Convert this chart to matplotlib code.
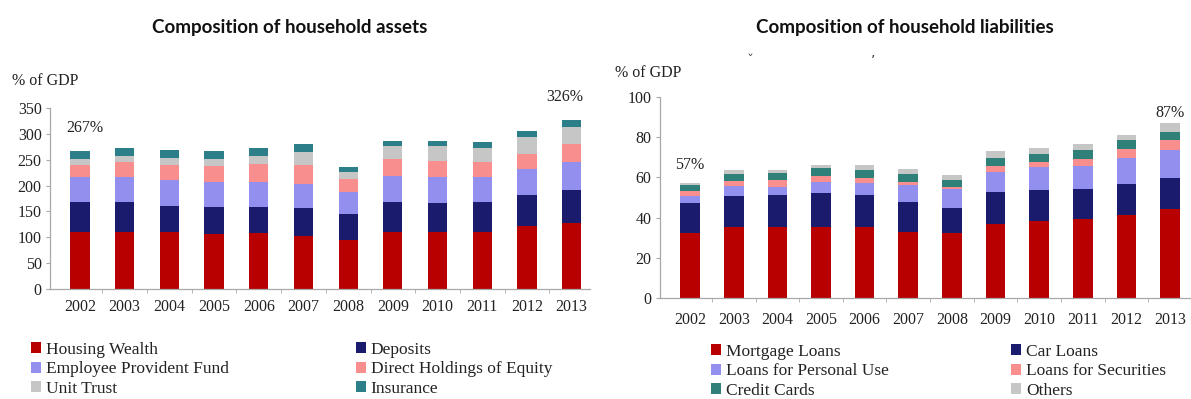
import matplotlib
matplotlib.use("Agg")
import matplotlib.pyplot as plt
from matplotlib.patches import Patch
import numpy as np

years = ["2002", "2003", "2004", "2005", "2006", "2007",
         "2008", "2009", "2010", "2011", "2012", "2013"]

# Household assets, % of GDP
asset_names = ["Housing Wealth", "Deposits", "Employee Provident Fund",
               "Direct Holdings of Equity", "Unit Trust", "Insurance"]
housing_wealth = [110, 110, 110, 106, 108, 103, 94, 110, 110, 110, 121, 128]
deposits = [58, 58, 51, 52, 51, 54, 51, 58, 56, 58, 60, 64]
provident_fund = [48, 49, 49, 48, 47, 46, 42, 51, 51, 49, 52, 54]
equity = [24, 28, 29, 31, 36, 36, 26, 33, 30, 28, 29, 35]
unit_trust = [12, 13, 15, 15, 16, 26, 13, 24, 29, 28, 31, 32]
insurance = [15, 14, 14, 15, 15, 16, 10, 10, 10, 11, 12, 13]

# Household liabilities, % of GDP
liab_names = ["Mortgage Loans", "Car Loans", "Loans for Personal Use",
              "Loans for Securities", "Credit Cards", "Others"]
mortgage = [32.5, 35.5, 35.5, 35.5, 35.5, 33, 32.5, 37, 38.5, 39.5, 41.5, 44.5]
car_loans = [15, 15, 15.5, 16.5, 15.5, 15, 12.5, 15.5, 15, 14.5, 15, 15]
personal_use = [3, 5, 4, 5.5, 6, 8, 9, 10, 11.5, 11.5, 13, 14]
securities = [2.5, 2.5, 3.5, 3, 2.5, 1.5, 1, 3, 2.5, 3.5, 4.5, 5]
credit_cards = [3, 3.5, 3.5, 4, 4, 4, 3.5, 4, 4, 4.5, 4.5, 4]
others = [1, 2, 1.5, 1.5, 2.5, 2.5, 2.5, 3.5, 3, 3, 2.5, 4.5]

asset_colors = ["#B80000", "#1B1B6E", "#938FEE", "#F98E8E", "#C6C6C6", "#2C7F88"]
liab_colors = ["#B80000", "#1B1B6E", "#938FEE", "#F98E8E", "#2E8078", "#C6C6C6"]

SERIF = "Liberation Serif"
TXT = "#222222"
SPINE = "#A8A8A8"

fig = plt.figure(figsize=(11.91, 3.99), dpi=100)
W, H = 1191.0, 399.0


def px_axes(x0, y_top, x1, y_bot):
    return fig.add_axes([x0 / W, 1 - y_bot / H, (x1 - x0) / W, (y_bot - y_top) / H])


def stacked(ax, series, colors, width):
    x = np.arange(len(years))
    bottom = np.zeros(len(years))
    for vals, c in zip(series, colors):
        v = np.asarray(vals, dtype=float)
        ax.bar(x, v, width=width, bottom=bottom, color=c, edgecolor="none", zorder=2)
        bottom += v
    return bottom


def style(ax, ymax, ystep, xpad):
    ax.set_ylim(0, ymax)
    ax.set_yticks(np.arange(0, ymax + 1, ystep))
    ax.set_xticks(np.arange(len(years)))
    ax.set_xticklabels(years)
    ax.set_xticks(np.arange(len(years)) + 0.5, minor=True)
    for s in ("top", "right"):
        ax.spines[s].set_visible(False)
    for s in ("left", "bottom"):
        ax.spines[s].set_color(SPINE)
        ax.spines[s].set_linewidth(0.9)
    ax.tick_params(axis="x", which="major", length=0, pad=xpad,
                   labelsize=11.5, labelcolor=TXT)
    ax.tick_params(axis="x", which="minor", length=3, color=SPINE, direction="out")
    ax.tick_params(axis="y", length=3, color=SPINE, direction="out", pad=3,
                   labelsize=11.5, labelcolor=TXT)
    for lab in ax.get_xticklabels() + ax.get_yticklabels():
        lab.set_family(SERIF)


def legend_column(names, colors, x, y):
    handles = [Patch(facecolor=c, edgecolor="none") for c in colors]
    leg = fig.legend(handles, names, loc="upper left",
                     bbox_to_anchor=(x / W, 1 - y / H), frameon=False,
                     handlelength=0.6, handleheight=0.6, handletextpad=0.25,
                     labelspacing=0.2, borderpad=0, borderaxespad=0,
                     prop={"family": SERIF, "size": 12.5})
    for t in leg.get_texts():
        t.set_color(TXT)
    return leg


# ---- assets panel ----
ax1 = px_axes(50, 108, 590, 289)
tot_a = stacked(ax1, [housing_wealth, deposits, provident_fund, equity, unit_trust, insurance],
                asset_colors, 0.43)
style(ax1, 350, 50, 7)
ax1.set_xlim(-0.67, 11.41)
ax1.text(0.1, tot_a[0] + 45, f"{tot_a[0]:.0f}%", ha="center", va="center",
         family=SERIF, size=11.5, color=TXT, clip_on=False)
ax1.text(11 - 0.15, tot_a[-1] + 45, f"{tot_a[-1]:.0f}%", ha="center", va="center",
         family=SERIF, size=11.5, color=TXT, clip_on=False)

fig.text(290 / W, 1 - 27 / H, "Composition of household assets", ha="center",
         va="center", family="Lato", weight="bold", size=13.5, color="#111111")
fig.text(12 / W, 1 - 81 / H, "% of GDP", ha="left", va="center",
         family=SERIF, size=11.5, color=TXT)

legend_column([asset_names[0], asset_names[2], asset_names[4]],
              [asset_colors[0], asset_colors[2], asset_colors[4]], 31, 342)
legend_column([asset_names[1], asset_names[3], asset_names[5]],
              [asset_colors[1], asset_colors[3], asset_colors[5]], 356, 342)

# ---- liabilities panel ----
ax2 = px_axes(660, 97, 1191, 298)
tot_l = stacked(ax2, [mortgage, car_loans, personal_use, securities, credit_cards, others],
                liab_colors, 0.45)
style(ax2, 100, 20, 10)
ax2.set_xlim(-0.69, 11.48)
ax2.text(0, tot_l[0] + 9, f"{tot_l[0]:.0f}%", ha="center", va="center",
         family=SERIF, size=11.5, color=TXT, clip_on=False)
ax2.text(11.0, tot_l[-1] + 5, f"{tot_l[-1]:.0f}%", ha="center", va="center",
         family=SERIF, size=11.5, color=TXT, clip_on=False)

fig.text(905 / W, 1 - 27 / H, "Composition of household liabilities", ha="center",
         va="center", family="Lato", weight="bold", size=13.5, color="#111111")
fig.text(615 / W, 1 - 73 / H, "% of GDP", ha="left", va="center",
         family=SERIF, size=11.5, color=TXT)
fig.text(750 / W, 1 - 61 / H, "\u02c7", ha="center", va="center",
         family="DejaVu Sans", size=10, color="#555555")
fig.text(873 / W, 1 - 61 / H, "\u2019", ha="center", va="center",
         family="DejaVu Sans", size=10, color="#333333")

legend_column([liab_names[0], liab_names[2], liab_names[4]],
              [liab_colors[0], liab_colors[2], liab_colors[4]], 711, 344)
legend_column([liab_names[1], liab_names[3], liab_names[5]],
              [liab_colors[1], liab_colors[3], liab_colors[5]], 1011, 344)

fig.savefig("out.png", dpi=100, facecolor="white")
